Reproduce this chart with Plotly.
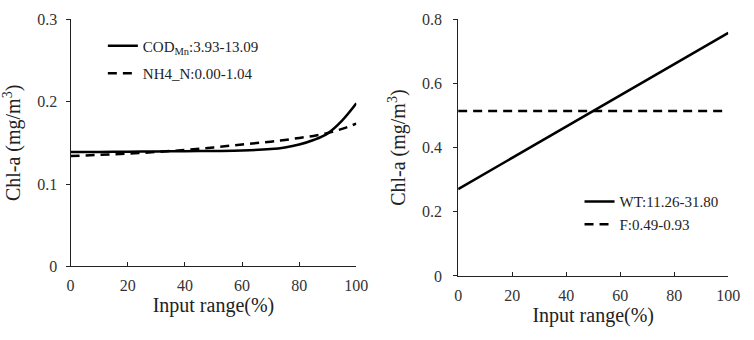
import plotly.graph_objects as go

# Left panel data
x_left = [0, 10, 20, 30, 40, 50, 60, 70, 75, 80, 85, 90, 95, 100]
cod_mn = [0.1388, 0.1390, 0.1393, 0.1396, 0.1399, 0.1402, 0.1407, 0.1425, 0.1445, 0.148, 0.1535, 0.1616, 0.177, 0.198]
nh4_n = [0.1340, 0.1355, 0.1370, 0.1390, 0.1415, 0.1445, 0.1480, 0.1515, 0.1535, 0.1560, 0.1585, 0.1620, 0.1670, 0.1735]

# Right panel data
x_wt = [0, 100]
wt = [0.2706, 0.758]
x_f = [0, 98]
f_vals = [0.5146, 0.5146]

left_yticks = [0, 0.1, 0.2, 0.3]
right_yticks = [0, 0.2, 0.4, 0.6, 0.8]
xticks = [0, 20, 40, 60, 80, 100]

FONT = "Liberation Serif"
W, H = 754, 340

fig = go.Figure()
fig.add_trace(go.Scatter(x=x_left, y=cod_mn, mode="lines", line=dict(color="black", width=2.5, shape="spline"),
                         name="COD<sub>Mn</sub>:3.93-13.09", xaxis="x", yaxis="y", legend="legend"))
fig.add_trace(go.Scatter(x=x_left, y=nh4_n, mode="lines", line=dict(color="black", width=2.5, dash="9px,6px", shape="spline"),
                         name="NH4_N:0.00-1.04", xaxis="x", yaxis="y", legend="legend2"))
fig.add_trace(go.Scatter(x=x_wt, y=wt, mode="lines", line=dict(color="black", width=2.5),
                         name="WT:11.26-31.80", xaxis="x2", yaxis="y2", legend="legend3"))
fig.add_trace(go.Scatter(x=x_f, y=f_vals, mode="lines", line=dict(color="black", width=2.5, dash="9px,6px"),
                         name="F:0.49-0.93", xaxis="x2", yaxis="y2", legend="legend4"))

axis_common = dict(showline=True, linecolor="#222", linewidth=1, showgrid=False, zeroline=False,
                   tickfont=dict(family=FONT, size=16, color="#333"), ticklen=4, tickcolor="#222")
title_font = dict(family=FONT, size=20, color="#222")
legend_font = dict(family=FONT, size=15, color="#222")


def leg(x, y_center):
    return dict(x=x / W, y=1 - y_center / H, xanchor="left", yanchor="middle",
                bgcolor="rgba(0,0,0,0)", font=legend_font)


fig.update_layout(
    width=W, height=H, margin=dict(l=0, r=0, t=0, b=0),
    paper_bgcolor="white", plot_bgcolor="white",
    font=dict(family=FONT, color="#222"),
    showlegend=True,
    xaxis=dict(domain=[68/W, 360/W], range=[0, 100], tickvals=xticks, ticks="inside", anchor="y",
               ticklabelstandoff=4,
               title=dict(text="Input range(%)", font=title_font, standoff=0), **axis_common),
    yaxis=dict(domain=[1-272/H, 1-12/H], range=[0, 0.3], tickvals=left_yticks, ticktext=["0", "0.1", "0.2", "0.3"],
               ticks="outside", anchor="x", ticklabelstandoff=5,
               title=dict(text="Chl-a (mg/m<sup>3</sup>)", font=title_font, standoff=12), **axis_common),
    xaxis2=dict(domain=[464/W, 740/W], range=[0, 100], tickvals=xticks, ticks="inside", anchor="y2",
                ticklabelstandoff=5,
                title=dict(text="Input range(%)", font=title_font, standoff=2), **axis_common),
    yaxis2=dict(domain=[1-282/H, 1-12/H], range=[0, 0.8], tickvals=right_yticks, ticktext=["0", "0.2", "0.4", "0.6", "0.8"],
                ticks="outside", anchor="x2", ticklabelstandoff=8,
                title=dict(text="Chl-a (mg/m<sup>3</sup>)", font=title_font, standoff=10), **axis_common),
    legend=leg(101, 40),
    legend2=leg(101, 69),
    legend3=leg(588, 204),
    legend4=leg(588, 228),
)

fig.write_html("out.html", config={"displayModeBar": False},
               post_script="document.body.style.margin='0';document.body.style.overflow='hidden';")
